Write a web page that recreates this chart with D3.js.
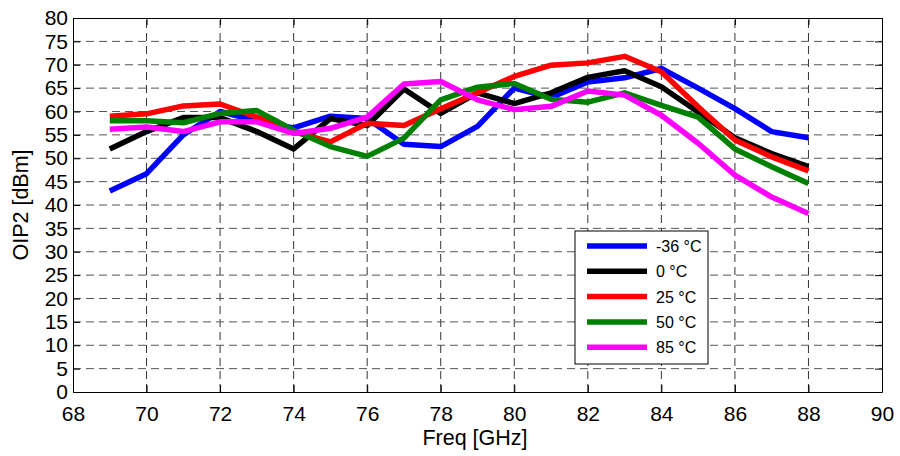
<!DOCTYPE html>
<html>
<head>
<meta charset="utf-8">
<script src="https://cdn.jsdelivr.net/npm/d3@7"></script>
<style>
  body { margin: 0; background: #fff; }
  text { font-family: "Liberation Sans", Arial, sans-serif; }
</style>
</head>
<body>
<div id="chart"></div>
<script>
const freq = [69, 70, 71, 72, 73, 74, 75, 76, 77, 78, 79, 80, 81, 82, 83, 84, 85, 86, 87, 88];

const temps = ["-36 °C", "0 °C", "25 °C", "50 °C", "85 °C"];
const colors = ["#0000ff", "#000000", "#ff0000", "#008000", "#ff00ff"];

const oipM36 = [43, 46.7, 55, 60, 58, 56.5, 59, 58.5, 53, 52.5, 56.8, 65, 63, 66.3, 67.2, 69.2, 65, 60.6, 55.7, 54.4];
const oip0 = [52, 55.7, 58.7, 58.7, 55.7, 52, 58.5, 57, 64.8, 59.6, 64, 61.7, 64, 67.3, 68.7, 65.3, 59.9, 54.4, 51, 48.2];
const oip25 = [59, 59.5, 61.2, 61.6, 58.8, 55.7, 53.5, 57.5, 57, 60.6, 64, 67.5, 69.9, 70.4, 71.8, 68.5, 61, 53.9, 50.3, 47.3];
const oip50 = [58, 58, 57.6, 59.6, 60.2, 56, 52.5, 50.4, 54.3, 62.5, 65.2, 66, 62.6, 62, 64, 61.3, 58.8, 52, 48.2, 44.6];
const oip85 = [56.2, 56.7, 55.7, 57.8, 57.8, 55.3, 56.4, 58.8, 65.9, 66.4, 62.5, 60.4, 61.1, 64.4, 63.5, 59.2, 53.2, 46.4, 41.7, 38.2];

const series = [oipM36, oip0, oip25, oip50, oip85];

const xTicks = d3.range(68, 91, 2);
const yTicks = d3.range(0, 81, 5);

const width = 900, height = 456;
const margin = {left: 73, right: 18, top: 18, bottom: 64};

const svg = d3.select("#chart").append("svg")
  .attr("width", width)
  .attr("height", height);

const x = d3.scaleLinear().domain([68, 90]).range([margin.left, width - margin.right]);
const y = d3.scaleLinear().domain([0, 80]).range([height - margin.bottom, margin.top]);

// grid
const grid = svg.append("g");
grid.selectAll(".vg")
  .data(xTicks.slice(1, -1))
  .enter().append("line")
  .attr("x1", d => x(d)).attr("x2", d => x(d))
  .attr("y1", y(0)).attr("y2", y(80))
  .attr("stroke", "#333").attr("stroke-width", 1)
  .attr("stroke-dasharray", "8,5");
grid.selectAll(".hg")
  .data(yTicks.slice(1, -1))
  .enter().append("line")
  .attr("y1", d => y(d)).attr("y2", d => y(d))
  .attr("x1", x(68)).attr("x2", x(90))
  .attr("stroke", "#555").attr("stroke-width", 1)
  .attr("stroke-dasharray", "8,5");

// axes
const xAxis = svg.append("g")
  .attr("transform", `translate(0,${y(0)})`)
  .call(d3.axisBottom(x).tickValues(xTicks).tickSizeInner(-7).tickSizeOuter(0).tickPadding(14));
const yAxis = svg.append("g")
  .attr("transform", `translate(${x(68)},0)`)
  .call(d3.axisLeft(y).tickValues(yTicks).tickSizeInner(-7).tickSizeOuter(0).tickPadding(5));
const xTop = svg.append("g")
  .attr("transform", `translate(0,${y(80)})`)
  .call(d3.axisTop(x).tickValues(xTicks).tickSizeInner(-7).tickSizeOuter(0).tickFormat(""));
const yRight = svg.append("g")
  .attr("transform", `translate(${x(90)},0)`)
  .call(d3.axisRight(y).tickValues(yTicks).tickSizeInner(-7).tickSizeOuter(0).tickFormat(""));

[xAxis, yAxis, xTop, yRight].forEach(a => {
  a.selectAll("path").attr("stroke", "#000");
  a.selectAll("line").attr("stroke", "#000");
  a.selectAll("text")
    .attr("fill", "#000")
    .style("font-size", "21px")
    .style("font-family", "'Liberation Sans', Arial, sans-serif");
});

// lines
const line = d3.line()
  .x((d, i) => x(freq[i]))
  .y(d => y(d));

svg.append("g").selectAll("path")
  .data(series)
  .enter().append("path")
  .attr("d", line)
  .attr("fill", "none")
  .attr("stroke", (d, i) => colors[i])
  .attr("stroke-width", 5.5)
  .attr("stroke-linejoin", "round");

// axis labels
svg.append("text")
  .attr("x", 475).attr("y", 445)
  .attr("text-anchor", "middle")
  .style("font-size", "21.5px")
  .text("Freq [GHz]");

svg.append("text")
  .attr("transform", `translate(28,${y(40)}) rotate(-90)`)
  .attr("text-anchor", "middle")
  .style("font-size", "21.5px")
  .text("OIP2 [dBm]");

// legend
const lg = svg.append("g").attr("transform", "translate(575,231)");
lg.append("rect")
  .attr("width", 133).attr("height", 133)
  .attr("fill", "#fff").attr("stroke", "#000").attr("stroke-width", 1);
const items = lg.selectAll(".item")
  .data(temps)
  .enter().append("g")
  .attr("transform", (d, i) => `translate(0,${15 + i * 25.3})`);
items.append("line")
  .attr("x1", 12).attr("x2", 72)
  .attr("stroke", (d, i) => colors[i])
  .attr("stroke-width", 5.5);
items.append("text")
  .attr("x", 81).attr("y", 6)
  .style("font-size", "16px")
  .text(d => d);
</script>
</body>
</html>
